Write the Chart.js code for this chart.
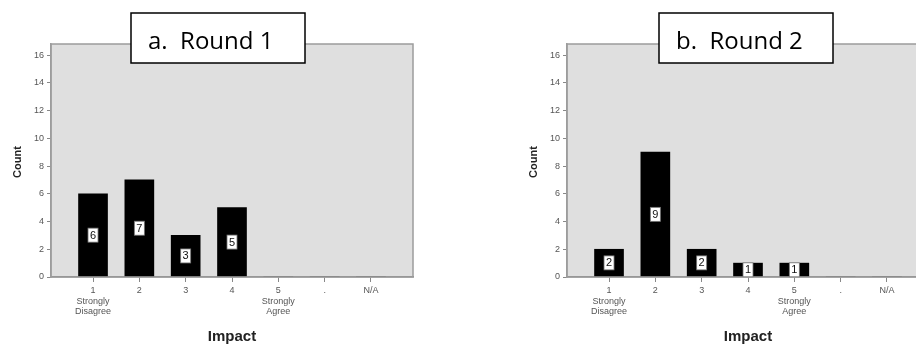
<!DOCTYPE html>
<html>
<head>
<meta charset="utf-8">
<script src="https://cdn.jsdelivr.net/npm/chart.js@4/dist/chart.umd.min.js"></script>
<style>
  html, body { margin: 0; padding: 0; background: #fff; }
  body { width: 916px; height: 347px; overflow: hidden; position: relative; }
  .panel { position: absolute; top: 0; width: 460px; height: 347px; }
</style>
</head>
<body>
<div class="panel" style="left:0px"><canvas id="round1" width="460" height="347"></canvas></div>
<div class="panel" style="left:516px"><canvas id="round2" width="460" height="347"></canvas></div>
<script>
// Response categories on the Impact scale
const categories = ['1', '2', '3', '4', '5', '.', 'N/A'];
const tickLabels = [['1', 'Strongly', 'Disagree'], '2', '3', '4', ['5', 'Strongly', 'Agree'], '.', 'N/A'];
// Counts per category
const round1Counts = [6, 7, 3, 5, 0, 0, 0];
const round2Counts = [2, 9, 2, 1, 1, 0, 0];
// Count axis ticks
const countTicks = [0, 2, 4, 6, 8, 10, 12, 14, 16];

const titleFont = '"Open Sans", "Liberation Sans", sans-serif';
const smallFont = '"Liberation Sans", "DejaVu Sans", sans-serif';

const panelPlugin = {
  id: 'panel',
  beforeDraw(chart) {
    const { ctx, chartArea: a } = chart;
    ctx.save();
    ctx.fillStyle = '#dfdfdf';
    ctx.fillRect(a.left, a.top, a.right - a.left, a.bottom - a.top);
    ctx.restore();
  },
  afterDatasetsDraw(chart) {
    const { ctx, chartArea: a } = chart;
    ctx.save();
    ctx.strokeStyle = '#9c9c9c';
    ctx.lineWidth = 1.5;
    ctx.strokeRect(a.left, a.top, a.right - a.left, a.bottom - a.top);
    // value boxes centred on each bar
    const meta = chart.getDatasetMeta(0);
    const values = chart.data.datasets[0].data;
    ctx.font = '11px ' + smallFont;
    ctx.textAlign = 'center';
    ctx.textBaseline = 'middle';
    meta.data.forEach((bar, i) => {
      const v = values[i].y;
      if (!v) return;
      const cy = (bar.y + bar.base) / 2;
      ctx.fillStyle = '#ffffff';
      ctx.fillRect(bar.x - 5, cy - 7, 10, 14);
      ctx.strokeStyle = '#777';
      ctx.lineWidth = 0.8;
      ctx.strokeRect(bar.x - 5, cy - 7, 10, 14);
      ctx.fillStyle = '#111';
      ctx.fillText(String(v), bar.x, cy + 0.5);
    });
    ctx.restore();
  },
  afterDraw(chart) {
    const { ctx } = chart;
    const o = chart.options.plugins.panel;
    ctx.save();
    // axis titles
    ctx.fillStyle = '#222';
    ctx.font = 'bold 11px ' + smallFont;
    ctx.textAlign = 'center';
    ctx.textBaseline = 'middle';
    ctx.translate(18, 162);
    ctx.rotate(-Math.PI / 2);
    ctx.fillText('Count', 0, 0);
    ctx.setTransform(1, 0, 0, 1, 0, 0);
    ctx.font = 'bold 15px ' + smallFont;
    ctx.fillText('Impact', 232, 337);
    // panel caption box
    ctx.fillStyle = '#fff';
    ctx.fillRect(o.boxX, 13, 174, 50);
    ctx.strokeStyle = '#000';
    ctx.lineWidth = 1.5;
    ctx.strokeRect(o.boxX, 13, 174, 50);
    ctx.fillStyle = '#000';
    ctx.font = '24px ' + titleFont;
    ctx.textAlign = 'left';
    ctx.textBaseline = 'alphabetic';
    ctx.fillText(o.caption, o.boxX + 17, 49);
    ctx.restore();
  }
};

function makeChart(id, counts, caption, boxX) {
  const points = counts.map((v, i) => ({ x: i + 1, y: v }));
  return new Chart(document.getElementById(id), {
    type: 'bar',
    data: {
      datasets: [{
        data: points,
        backgroundColor: '#000',
        borderWidth: 0,
        barThickness: 29
      }]
    },
    plugins: [panelPlugin],
    options: {
      responsive: false,
      animation: false,
      devicePixelRatio: 1,
      layout: { padding: { top: 44, right: 47, left: 0, bottom: 0 } },
      plugins: {
        legend: { display: false },
        tooltip: { enabled: false },
        panel: { caption: caption, boxX: boxX }
      },
      scales: {
        x: {
          type: 'linear',
          min: 0.093,
          max: 7.907,
          offset: false,
          grid: { display: true, offset: false, drawOnChartArea: false, drawTicks: true, tickLength: 5, color: '#888', lineWidth: 1 },
          border: { display: true, color: '#888', width: 1.5 },
          ticks: {
            stepSize: 1,
            autoSkip: false,
            maxRotation: 0,
            padding: 3,
            color: '#555',
            font: { family: smallFont, size: 9, lineHeight: 1.2 },
            callback: (v) => tickLabels[v - 1]
          },
          afterBuildTicks: (s) => {
            s.ticks = categories.map((c, i) => ({ value: i + 1 }));
          },
          afterFit: (s) => { s.height = 70; }
        },
        y: {
          min: 0,
          max: 16.8,
          grid: { display: true, drawOnChartArea: false, drawTicks: true, tickLength: 4, color: '#888' },
          border: { display: true, color: '#9c9c9c', width: 1.5 },
          ticks: {
            stepSize: 2,
            padding: 3,
            color: '#555',
            font: { family: smallFont, size: 9 }
          },
          afterBuildTicks: (s) => {
            s.ticks = countTicks.map(v => ({ value: v }));
          },
          afterFit: (s) => { s.width = 51; }
        }
      }
    }
  });
}

makeChart('round1', round1Counts, 'a.  Round 1', 131);
makeChart('round2', round2Counts, 'b.  Round 2', 143);
</script>
</body>
</html>
